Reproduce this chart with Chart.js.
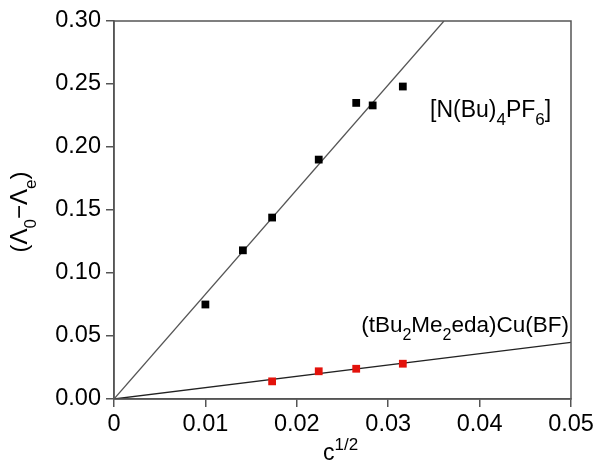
<!DOCTYPE html>
<html>
<head>
<meta charset="utf-8">
<script src="https://cdn.jsdelivr.net/npm/chart.js@4"></script>
<style>
  html, body { margin: 0; padding: 0; background: #fff; }
  #wrap { width: 600px; height: 467px; }
</style>
</head>
<body>
<div id="wrap"><canvas id="myChart" width="600" height="467"></canvas></div>
<script>
// measured points, x = c^1/2
const saltX = [0.0100, 0.0141, 0.0173, 0.0224, 0.0265, 0.0283, 0.0316];
const saltY = [0.075, 0.118, 0.144, 0.190, 0.235, 0.233, 0.248];
const cuX = [0.0173, 0.0224, 0.0265, 0.0316];
const cuY = [0.014, 0.022, 0.024, 0.028];

// fitted straight lines through the origin
const saltFitX = [0, 0.0361];
const saltFitY = [0, 0.30];
const cuFitX = [0, 0.05];
const cuFitY = [0, 0.045];

const xTicks = [0, 0.01, 0.02, 0.03, 0.04, 0.05];
const yTicks = [0, 0.05, 0.10, 0.15, 0.20, 0.25, 0.30];

const FONT = '"Liberation Sans", Arial, Helvetica, sans-serif';
const AXIS = '#555';

function pts(xs, ys) {
    return xs.map((x, i) => ({ x: x, y: ys[i] }));
}

// draws text pieces with sub / sup, starting at x, baseline y
function richText(ctx, parts, x, y, size) {
    let cx = x;
    parts.forEach(p => {
        let s = p.s ? Math.round(size * 0.72) : size;
        let dy = p.s == 'sub' ? size * 0.36 : (p.s == 'sup' ? -size * 0.45 : 0);
        ctx.font = s + 'px ' + FONT;
        ctx.fillText(p.t, cx, y + dy);
        cx += ctx.measureText(p.t).width;
    });
    return cx - x;
}

function richWidth(ctx, parts, size) {
    let w = 0;
    parts.forEach(p => {
        let s = p.s ? Math.round(size * 0.72) : size;
        ctx.font = s + 'px ' + FONT;
        w += ctx.measureText(p.t).width;
    });
    return w;
}

const textPlugin = {
    id: 'textPlugin',
    afterDraw(chart) {
        const ctx = chart.ctx;
        const a = chart.chartArea;
        ctx.save();
        // frame
        ctx.strokeStyle = AXIS;
        ctx.lineWidth = 1.5;
        ctx.strokeRect(a.left, a.top, a.right - a.left, a.bottom - a.top);

        ctx.fillStyle = '#000';
        ctx.textAlign = 'left';
        ctx.textBaseline = 'alphabetic';

        // x title
        richText(ctx, [{ t: 'c' }, { t: '1/2', s: 'sup' }], 323, 460, 23);

        // y title, rotated
        const yParts = [{ t: '(Λ' }, { t: '0', s: 'sub' }, { t: '−Λ' }, { t: 'e', s: 'sub' }, { t: ')' }];
        const yw = richWidth(ctx, yParts, 24);
        ctx.save();
        ctx.translate(27, 212);
        ctx.rotate(-Math.PI / 2);
        richText(ctx, yParts, -yw / 2, 0, 24);
        ctx.restore();

        // series labels
        richText(ctx, [{ t: '[N(Bu)' }, { t: '4', s: 'sub' }, { t: 'PF' }, { t: '6', s: 'sub' }, { t: ']' }], 430, 117, 23);
        const cuParts = [{ t: '(tBu' }, { t: '2', s: 'sub' }, { t: 'Me' }, { t: '2', s: 'sub' }, { t: 'eda)Cu(BF)' }];
        const cw = richWidth(ctx, cuParts, 22.5);
        richText(ctx, cuParts, 569 - cw, 332, 22.5);
        ctx.restore();
    }
};

const ctx = document.getElementById('myChart');

new Chart(ctx, {
    type: 'scatter',
    data: {
        datasets: [
            {
                label: 'N(Bu)4PF6',
                data: pts(saltX, saltY),
                backgroundColor: '#000',
                borderColor: '#000',
                pointStyle: 'rect',
                pointRadius: 5.5,
                borderWidth: 0
            }, {
                label: '(tBu2Me2eda)Cu(BF)',
                data: pts(cuX, cuY),
                backgroundColor: '#e3120b',
                borderColor: '#e3120b',
                pointStyle: 'rect',
                pointRadius: 5.5,
                borderWidth: 0
            }, {
                label: 'fit 1',
                data: pts(saltFitX, saltFitY),
                showLine: true,
                borderColor: '#555',
                borderWidth: 1.3,
                pointRadius: 0
            }, {
                label: 'fit 2',
                data: pts(cuFitX, cuFitY),
                showLine: true,
                borderColor: '#222',
                borderWidth: 1.3,
                pointRadius: 0
            }
        ]
    },
    options: {
        responsive: false,
        animation: false,
        layout: { padding: { top: 21, right: 29, left: 0, bottom: 0 } },
        plugins: {
            legend: { display: false },
            tooltip: { enabled: false }
        },
        scales: {
            x: {
                type: 'linear',
                min: 0,
                max: 0.05,
                afterFit(scale) { scale.height = 68; },
                afterBuildTicks(scale) { scale.ticks = xTicks.map(v => ({ value: v })); },
                ticks: {
                    color: '#000',
                    font: { family: FONT, size: 23.5 },
                    padding: 3,
                    maxRotation: 0,
                    callback: v => v == 0 ? '0' : v.toFixed(2)
                },
                grid: { drawOnChartArea: false, tickLength: 8, color: AXIS, lineWidth: 1.5 },
                border: { color: AXIS, width: 1.5 }
            },
            y: {
                type: 'linear',
                min: 0,
                max: 0.30,
                afterFit(scale) { scale.width = 114; },
                afterBuildTicks(scale) { scale.ticks = yTicks.map(v => ({ value: v })); },
                ticks: {
                    color: '#000',
                    font: { family: FONT, size: 23.5 },
                    padding: 5,
                    callback: v => v.toFixed(2)
                },
                grid: { drawOnChartArea: false, tickLength: 8, color: AXIS, lineWidth: 1.5 },
                border: { color: AXIS, width: 1.5 }
            }
        }
    },
    plugins: [textPlugin]
});
</script>
</body>
</html>
